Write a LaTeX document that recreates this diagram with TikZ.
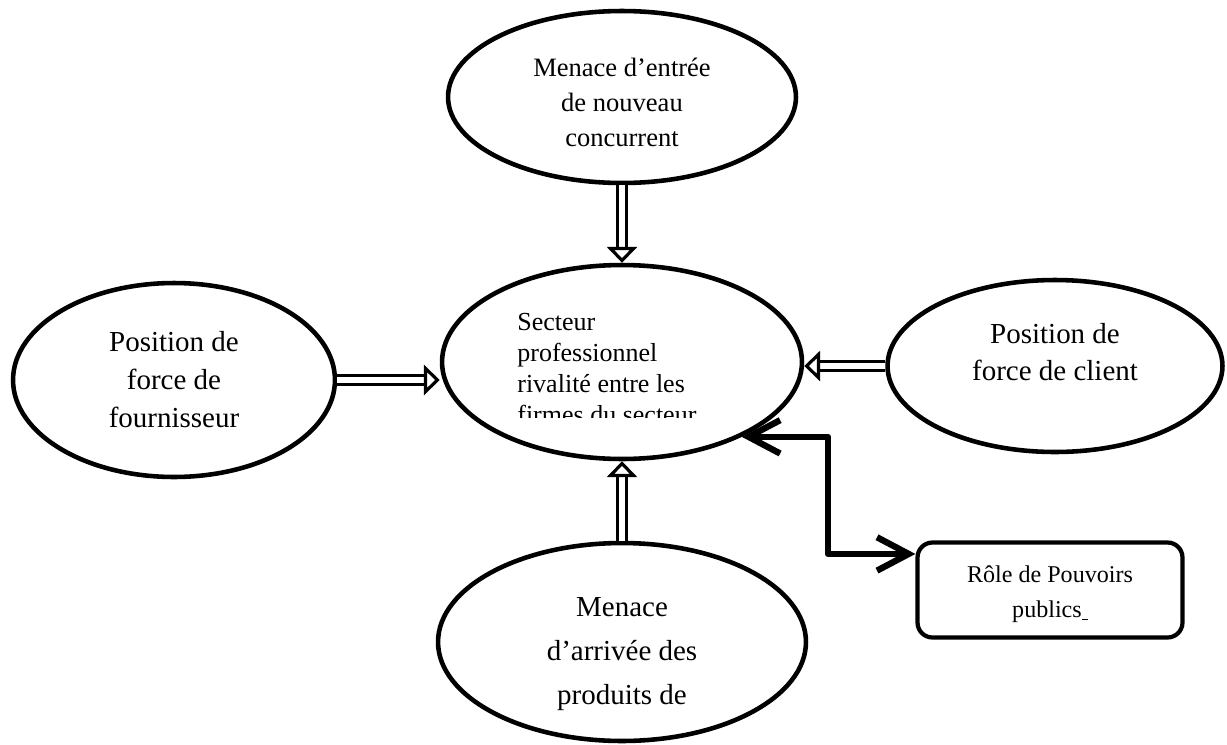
\documentclass[tikz,border=0pt]{standalone}
\usepackage{fontspec}
\setmainfont{Liberation Serif}
\usetikzlibrary{shapes.geometric,arrows.meta}

\tikzstyle{force}=[ellipse, draw, line width=2.6pt, inner sep=0pt, align=center]
\tikzstyle{bigtext}=[font=\fontsize{16.5}{21.6}\selectfont]
\tikzstyle{hollow}=[double, line width=1.8pt, double distance=3pt,
                    -{Triangle[open,length=9pt,width=17pt,line width=1.8pt]}]
\tikzstyle{govarrow}=[line width=3.6pt, line join=round, line cap=round,
                      {Straight Barb[length=18pt,width=19pt]}-{Straight Barb[length=18pt,width=19pt]}]

\begin{document}
\begin{tikzpicture}[x=0.02cm,y=-0.02cm]
  \useasboundingbox (0,0) rectangle (1227,744);

  \node[force, minimum width=6.96cm, minimum height=3.44cm,
        font=\fontsize{15.1}{20}\selectfont] (entrant) at (622,97)
        {\rule{0pt}{17pt}Menace d’entrée\\de nouveau\\concurrent};
  \node[force, minimum width=7.2cm, minimum height=3.88cm] (sector) at (622,362) {};
  \node[force, bigtext, minimum width=6.44cm, minimum height=3.88cm] (supplier) at (174,380)
        {Position de\\force de\\fournisseur};
  \node[force, bigtext, minimum width=6.7cm, minimum height=3.44cm] (client) at (1055,366)
        {Position de\\force de client\rule[-16pt]{0pt}{0pt}};
  \node[force, minimum width=7.36cm, minimum height=3.96cm,
        font=\fontsize{16.5}{25}\selectfont] (substitute) at (622,642)
        {\rule{0pt}{25pt}Menace\\d’arrivée des\\produits de};
  \node[draw, line width=2.4pt, rounded corners=8.5pt, minimum width=5.3cm,
        minimum height=1.9cm, align=center, font=\fontsize{13.7}{20}\selectfont]
        (state) at (1050,590) {\rule{0pt}{14pt}Rôle de Pouvoirs\\publics\underline{\ }};

  % text of the sector, cut at the bottom as in the source
  \begin{scope}
    \clip (500,300) rectangle (760,417);
    \node[anchor=north west, inner sep=0pt, align=left,
          font=\fontsize{14.8}{17.6}\selectfont] (rivalry) at (517,313)
          {Secteur\\professionnel\\rivalité entre les\\firmes du secteur};
  \end{scope}

  \draw[hollow] (entrant.south) -- (entrant.south |- sector.north);
  \draw[hollow] (supplier.east) -- (supplier.east -| sector.west);
  \draw[hollow] (client.west) -- (client.west -| sector.east);
  \draw[hollow] (substitute.north) -- (substitute.north |- sector.south);

  \coordinate (bend) at (828,0);
  \draw[govarrow] (sector.-32) -- (sector.-32 -| bend) |- (state.165);
\end{tikzpicture}
\end{document}
